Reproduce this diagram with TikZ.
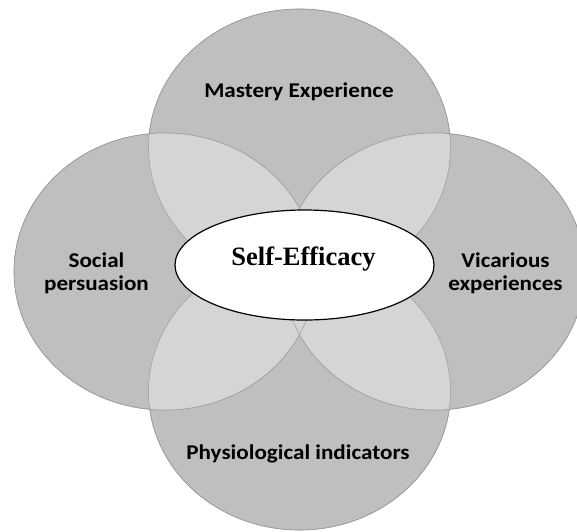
\documentclass[tikz,border=0pt]{standalone}
\usepackage{fontspec}
\setmainfont{Liberation Serif}
\newfontfamily\labelfont{Carlito}
\usetikzlibrary{shapes.geometric}
\definecolor{ringgray}{RGB}{191,191,191}
\definecolor{lensgray}{RGB}{213,213,213}
\definecolor{edgegray}{RGB}{155,155,155}

\begin{document}
\begin{tikzpicture}
  [x=1pt, y=-1pt,
   ring/.style={shape=ellipse, draw=edgegray, fill=ringgray, line width=0.6pt,
         inner sep=0pt, minimum width=302pt, minimum height=277pt},
   lens/.style={fill=lensgray},
   rim/.style={draw=edgegray, line width=0.5pt},
   core/.style={shape=ellipse, draw=black, fill=white, line width=1.2pt,
         inner sep=0pt, minimum width=259pt, minimum height=110pt},
   tag/.style={font=\labelfont\bfseries\fontsize{21}{23}\selectfont,
         align=center, anchor=base, xscale=1.1, transform shape}
  ]
  \useasboundingbox (0,0) rectangle (577,531);
  \clip (0,0) rectangle (577,531);

 % the four source circles
 \path
   (299.5,147.5) node (mastery)   [ring] {}
   (299.5,391.5) node (physio)    [ring] {}
   (165,271.5)   node (social)    [ring] {}
   (434,271.5)   node (vicarious) [ring] {}
   ;

 % lighter overlaps
 \begin{scope}
   \clip (mastery.center) ellipse [x radius=151pt, y radius=138.5pt];
   \fill [lens] (social.center) ellipse [x radius=151pt, y radius=138.5pt];
   \fill [lens] (vicarious.center) ellipse [x radius=151pt, y radius=138.5pt];
 \end{scope}
 \begin{scope}
   \clip (physio.center) ellipse [x radius=151pt, y radius=138.5pt];
   \fill [lens] (social.center) ellipse [x radius=151pt, y radius=138.5pt];
   \fill [lens] (vicarious.center) ellipse [x radius=151pt, y radius=138.5pt];
 \end{scope}
 \begin{scope}
   \clip (social.center) ellipse [x radius=151pt, y radius=138.5pt];
   \fill [lens] (vicarious.center) ellipse [x radius=151pt, y radius=138.5pt];
 \end{scope}

 \draw [rim] (mastery.center) ellipse [x radius=151pt, y radius=138.5pt];
 \draw [rim] (physio.center) ellipse [x radius=151pt, y radius=138.5pt];
 \draw [rim] (social.center) ellipse [x radius=151pt, y radius=138.5pt];
 \draw [rim] (vicarious.center) ellipse [x radius=151pt, y radius=138.5pt];

 \path
   (304.5,265) node (core)      [core] {}
   (303.5,265) node (selflabel) [anchor=base, font=\bfseries\fontsize{26.5}{30}\selectfont] {Self-Efficacy}
   (299,97)    node (masterylabel)   [tag] {Mastery Experience}
   (298,459)   node (physiolabel)    [tag] {Physiological indicators}
   (96.5,290)  node (sociallabel)    [tag] {Social\\persuasion}
   (505.5,290) node (vicariouslabel) [tag] {Vicarious\\experiences}
   ;

\end{tikzpicture}
\end{document}
